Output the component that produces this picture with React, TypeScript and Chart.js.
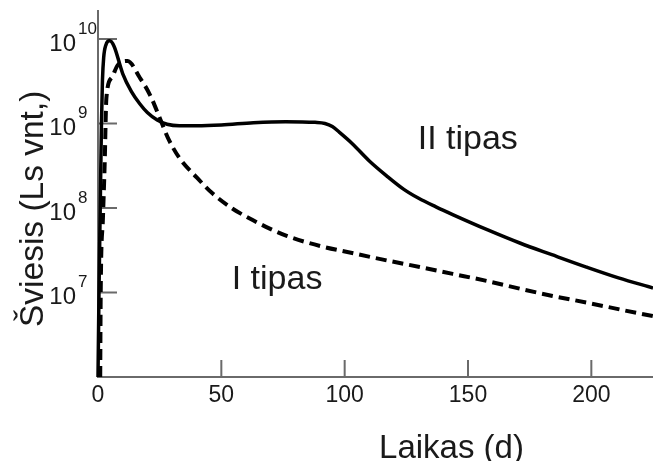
import React, { useEffect, useRef } from "react";
import { Chart, registerables } from "chart.js";

Chart.register(...registerables);

// ---- data ----
const typeIIDays = [0, 0.4, 0.9, 1.4, 1.8, 2.3, 3.2, 4.7, 6.5, 10, 13.5, 17, 20, 24, 28, 33, 40, 50, 63, 76, 88, 92, 95, 98, 103, 110, 117, 124, 130, 137, 144, 158, 171, 184, 198, 211, 225];
const typeIILum = [1e6, 1e7, 1e8, 1e9, 3.2e9, 6e9, 8.5e9, 9.5e9, 8.2e9, 3.9e9, 2.4e9, 1.7e9, 1.35e9, 1.1e9, 9.8e8, 9.4e8, 9.4e8, 9.6e8, 1.02e9, 1.05e9, 1.03e9, 1.0e9, 9.2e8, 7.8e8, 5.8e8, 3.6e8, 2.4e8, 1.66e8, 1.3e8, 1.03e8, 8.3e7, 5.5e7, 3.85e7, 2.8e7, 2.0e7, 1.49e7, 1.13e7];

const typeIDays = [0.9, 1.1, 2.0, 2.7, 3.4, 5.6, 8, 12, 16.9, 21, 25, 28.3, 33, 40, 46.5, 54.6, 62.7, 69.6, 76.5, 90, 103, 117, 130.4, 143.8, 157.6, 171, 184.3, 198, 211.5, 225];
const typeILum = [1e6, 1e7, 7.6e7, 3.3e8, 2.0e9, 3.5e9, 4.9e9, 5.5e9, 3.5e9, 2.2e9, 1.17e9, 6.8e8, 3.9e8, 2.3e8, 1.48e8, 9.8e7, 7.2e7, 5.7e7, 4.67e7, 3.55e7, 2.93e7, 2.4e7, 2.0e7, 1.66e7, 1.37e7, 1.11e7, 9.1e6, 7.6e6, 6.3e6, 5.25e6];

const xTickValues = [0, 50, 100, 150, 200];
const xTickMarks = [50, 100, 150, 200];
const yTickExponents = [7, 8, 9, 10];

const xMin = 0;
const xMax = 225;
const yMin = 1e6;
const yMax = 2.2e10;

const xTitle = "Laikas (d)";
const yTitle = "Šviesis (Ls vnt,)";
const labelII = "II tipas";
const labelI = "I tipas";

const FONT = '"Liberation Sans", Arial, Helvetica, sans-serif';

const axesPlugin = {
  id: "customAxes",
  beforeDatasetsDraw(chart: any) {
    const ctx = chart.ctx;
    const xs = chart.scales.x;
    const ys = chart.scales.y;
    const x0 = xs.getPixelForValue(xMin);
    const x1 = xs.getPixelForValue(xMax);
    const yb = ys.getPixelForValue(yMin);
    const yt = ys.getPixelForValue(yMax);
    ctx.save();
    ctx.strokeStyle = "#6a6a6a";
    ctx.lineWidth = 2;
    ctx.beginPath();
    ctx.moveTo(x0, yt);
    ctx.lineTo(x0, yb);
    ctx.lineTo(x1, yb);
    ctx.stroke();
    // inward tick marks
    ctx.beginPath();
    for (const e of yTickExponents) {
      const py = ys.getPixelForValue(Math.pow(10, e));
      ctx.moveTo(x0, py);
      ctx.lineTo(x0 + 19, py);
    }
    for (const v of xTickMarks) {
      const px = xs.getPixelForValue(v);
      ctx.moveTo(px, yb);
      ctx.lineTo(px, yb - 17);
    }
    ctx.stroke();
    ctx.restore();
  },
  afterDraw(chart: any) {
    const ctx = chart.ctx;
    const xs = chart.scales.x;
    const ys = chart.scales.y;
    const x0 = xs.getPixelForValue(xMin);
    const yb = ys.getPixelForValue(yMin);
    ctx.save();
    ctx.fillStyle = "#1a1a1a";
    // y tick labels: 10 with superscript exponent
    for (const e of yTickExponents) {
      const py = ys.getPixelForValue(Math.pow(10, e));
      ctx.font = `24px ${FONT}`;
      ctx.textAlign = "right";
      ctx.textBaseline = "alphabetic";
      ctx.fillText("10", x0 - 22, py + 12);
      ctx.font = `17px ${FONT}`;
      ctx.textAlign = "left";
      ctx.fillText(String(e), x0 - 20, py - 5);
    }
    // x tick labels
    ctx.font = `23px ${FONT}`;
    ctx.textAlign = "center";
    ctx.textBaseline = "alphabetic";
    for (const v of xTickValues) {
      const px = xs.getPixelForValue(v);
      ctx.fillText(String(v), px, yb + 25);
    }
    // x title
    ctx.font = `33px ${FONT}`;
    ctx.textAlign = "center";
    ctx.fillText(xTitle, xs.getPixelForValue(143.3), yb + 81);
    // y title
    ctx.save();
    ctx.translate(43, ys.getPixelForValue(Math.pow(10, 7.99)));
    ctx.rotate(-Math.PI / 2);
    ctx.font = `33.5px ${FONT}`;
    ctx.textAlign = "center";
    ctx.fillText(yTitle, 0, 0);
    ctx.restore();
    // series labels
    ctx.font = `34px ${FONT}`;
    ctx.textAlign = "left";
    ctx.fillText(labelII, xs.getPixelForValue(129.6), ys.getPixelForValue(Math.pow(10, 8.70)));
    ctx.fillText(labelI, xs.getPixelForValue(54.2), ys.getPixelForValue(Math.pow(10, 7.04)));
    ctx.restore();
  },
};

export default function App() {
  const canvasRef = useRef<HTMLCanvasElement | null>(null);

  useEffect(() => {
    const canvas = canvasRef.current;
    if (!canvas) return;
    const chart = new Chart(canvas, {
      type: "line",
      data: {
        datasets: [
          {
            label: labelII,
            data: typeIIDays.map((d, i) => ({ x: d, y: typeIILum[i] })),
            borderColor: "#000000",
            borderWidth: 3.5,
            pointRadius: 0,
            fill: false,
            cubicInterpolationMode: "monotone",
            clip: false,
          } as any,
          {
            label: labelI,
            data: typeIDays.map((d, i) => ({ x: d, y: typeILum[i] })),
            borderColor: "#000000",
            borderWidth: 4,
            borderDash: [11, 6],
            pointRadius: 0,
            fill: false,
            cubicInterpolationMode: "monotone",
            clip: false,
          } as any,
        ],
      },
      options: {
        responsive: false,
        animation: false,
        devicePixelRatio: 1,
        layout: { padding: { left: 98, top: 10, right: 0, bottom: 84 } },
        plugins: { legend: { display: false }, tooltip: { enabled: false } },
        scales: {
          x: { type: "linear", min: xMin, max: xMax, display: false },
          y: { type: "logarithmic", min: yMin, max: yMax, display: false },
        },
      },
      plugins: [axesPlugin],
    });
    return () => chart.destroy();
  }, []);

  return (
    <div style={{ position: "fixed", left: 0, top: 0, width: 653, height: 461, background: "#fff" }}>
      <canvas ref={canvasRef} width={653} height={461} style={{ display: "block", width: 653, height: 461 }} />
    </div>
  );
}
